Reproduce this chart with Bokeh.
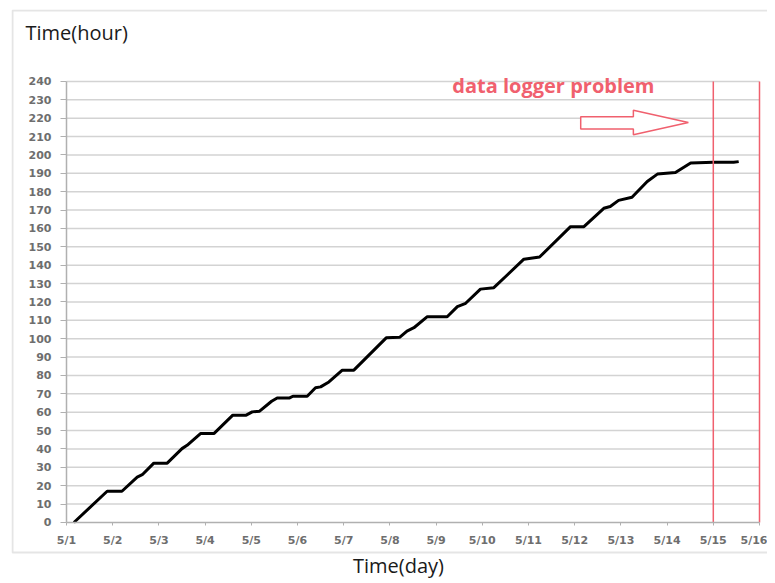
from bokeh.plotting import figure
from bokeh.models import Range1d, FixedTicker, BoxAnnotation, Label
from bokeh.core.properties import value
from bokeh.embed import file_html
from bokeh.resources import INLINE

# ---- data (days since 5/1, elapsed hours) ----
day_labels = ["5/%d" % d for d in range(1, 17)]
day_pos = list(range(0, 16))
y_ticks = list(range(0, 241, 10))

elapsed_day = [0.16, 0.88, 1.2, 1.53, 1.64, 1.89, 2.18, 2.5, 2.61, 2.9, 3.19, 3.6, 3.89,
               4.02, 4.18, 4.44, 4.56, 4.83, 4.9, 5.21, 5.39, 5.5, 5.68, 5.97, 6.22,
               6.92, 7.21, 7.37, 7.52, 7.81, 8.24, 8.46, 8.64, 8.96, 9.25, 9.54, 9.9,
               10.24, 10.91, 11.2, 11.63, 11.77, 11.95, 12.24, 12.57, 12.79, 13.18,
               13.51, 14.0, 14.44, 14.55]
elapsed_hour = [0, 17, 17, 24.7, 26, 32.3, 32.3, 40.2, 42, 48.4, 48.4, 58.4, 58.4,
                60.2, 60.6, 66, 67.8, 67.8, 68.7, 68.7, 73.3, 73.8, 76.5, 82.9, 82.9,
                100.5, 100.8, 104.2, 106, 112, 112, 117.5, 119.3, 127, 127.8, 134.7, 143.3,
                144.5, 161, 161, 171, 172, 175.3, 177, 185.6, 189.6, 190.5,
                195.7, 196, 196, 196.4]

problem_days = [14, 15]
note_text = "data logger problem"
note_pos = (8.35, 238)
arrow_x = [11.13, 12.27, 12.27, 13.46, 12.27, 12.27, 11.13]
arrow_y = [214.2, 214.2, 211.0, 217.7, 224.4, 220.8, 220.8]

RED = "#f0606e"
GRID = "#d3d3d3"

# the frame covers the whole chart area; the axes are fixed at day 0 / hour 0
p = figure(width=767, height=580, x_range=Range1d(-1.19048, 15.17316),
           y_range=Range1d(-31.565, 279.18), title=None,
           output_backend="svg", toolbar_location=None,
           min_border_left=11, min_border_right=0, min_border_top=9, min_border_bottom=0)
p.outline_line_color = None
p.background_fill_color = "white"
p.border_fill_color = "white"
p.xgrid.visible = False
p.ygrid.visible = False

# axes
p.xaxis.ticker = FixedTicker(ticks=day_pos)
p.xaxis.major_label_overrides = {d: lab for d, lab in zip(day_pos, day_labels)}
p.yaxis.ticker = FixedTicker(ticks=y_ticks)
p.xaxis.fixed_location = 0
p.yaxis.fixed_location = 0
p.xaxis.bounds = (0, 15)
p.yaxis.bounds = (0, 240)
for ax in (p.xaxis, p.yaxis):
    ax.axis_line_color = "#b0b0b0"
    ax.axis_line_width = 1.5
    ax.major_tick_line_color = "#b0b0b0"
    ax.minor_tick_line_color = None
    ax.major_tick_in = 0
    ax.major_label_text_font = "DejaVu Sans"
    ax.major_label_text_font_style = "bold"
    ax.major_label_text_font_size = "11px"
    ax.major_label_text_color = "#6e6e6e"
p.yaxis.major_tick_out = 6
p.yaxis.major_label_standoff = 9
p.xaxis.major_tick_out = 3
p.xaxis.major_label_standoff = 9

# horizontal gridlines across the plotted span
grid_y = y_ticks[1:]
p.segment(x0=[day_pos[0]] * len(grid_y), y0=grid_y, x1=[day_pos[-1]] * len(grid_y),
          y1=grid_y, line_color=GRID, line_width=1.5, level="underlay")

# series
p.line(elapsed_day, elapsed_hour, line_color="black", line_width=3)

# problem markers
p.segment(x0=problem_days, y0=[0] * len(problem_days), x1=problem_days,
          y1=[240] * len(problem_days), line_color=RED, line_width=1.5)
p.patch(arrow_x, arrow_y, fill_color="white", line_color=RED, line_width=1.5)
p.text(x=[note_pos[0]], y=[note_pos[1]], text=[note_text], text_color=RED,
       text_font=value("Open Sans"), text_font_style="bold", text_font_size="20px",
       text_baseline="middle", text_align="left")

# chart-area border and titles
p.add_layout(BoxAnnotation(left=-1.1688, right=20, top=278.64, bottom=-16.33,
                           fill_color=None, line_color="#aaaaaa", line_width=2,
                           editable=False))
p.add_layout(Label(x=-0.887, y=266.67, text="Time(hour)",
                   text_font="Open Sans", text_font_size="20px", text_baseline="middle",
                   text_color="#1a1a1a"))
p.add_layout(Label(x=7.186, y=-23.4, text="Time(day)",
                   text_font="Open Sans", text_font_size="20px", text_baseline="middle",
                   text_align="center", text_color="#1a1a1a"))

open("out.html", "w").write(file_html(p, INLINE))
